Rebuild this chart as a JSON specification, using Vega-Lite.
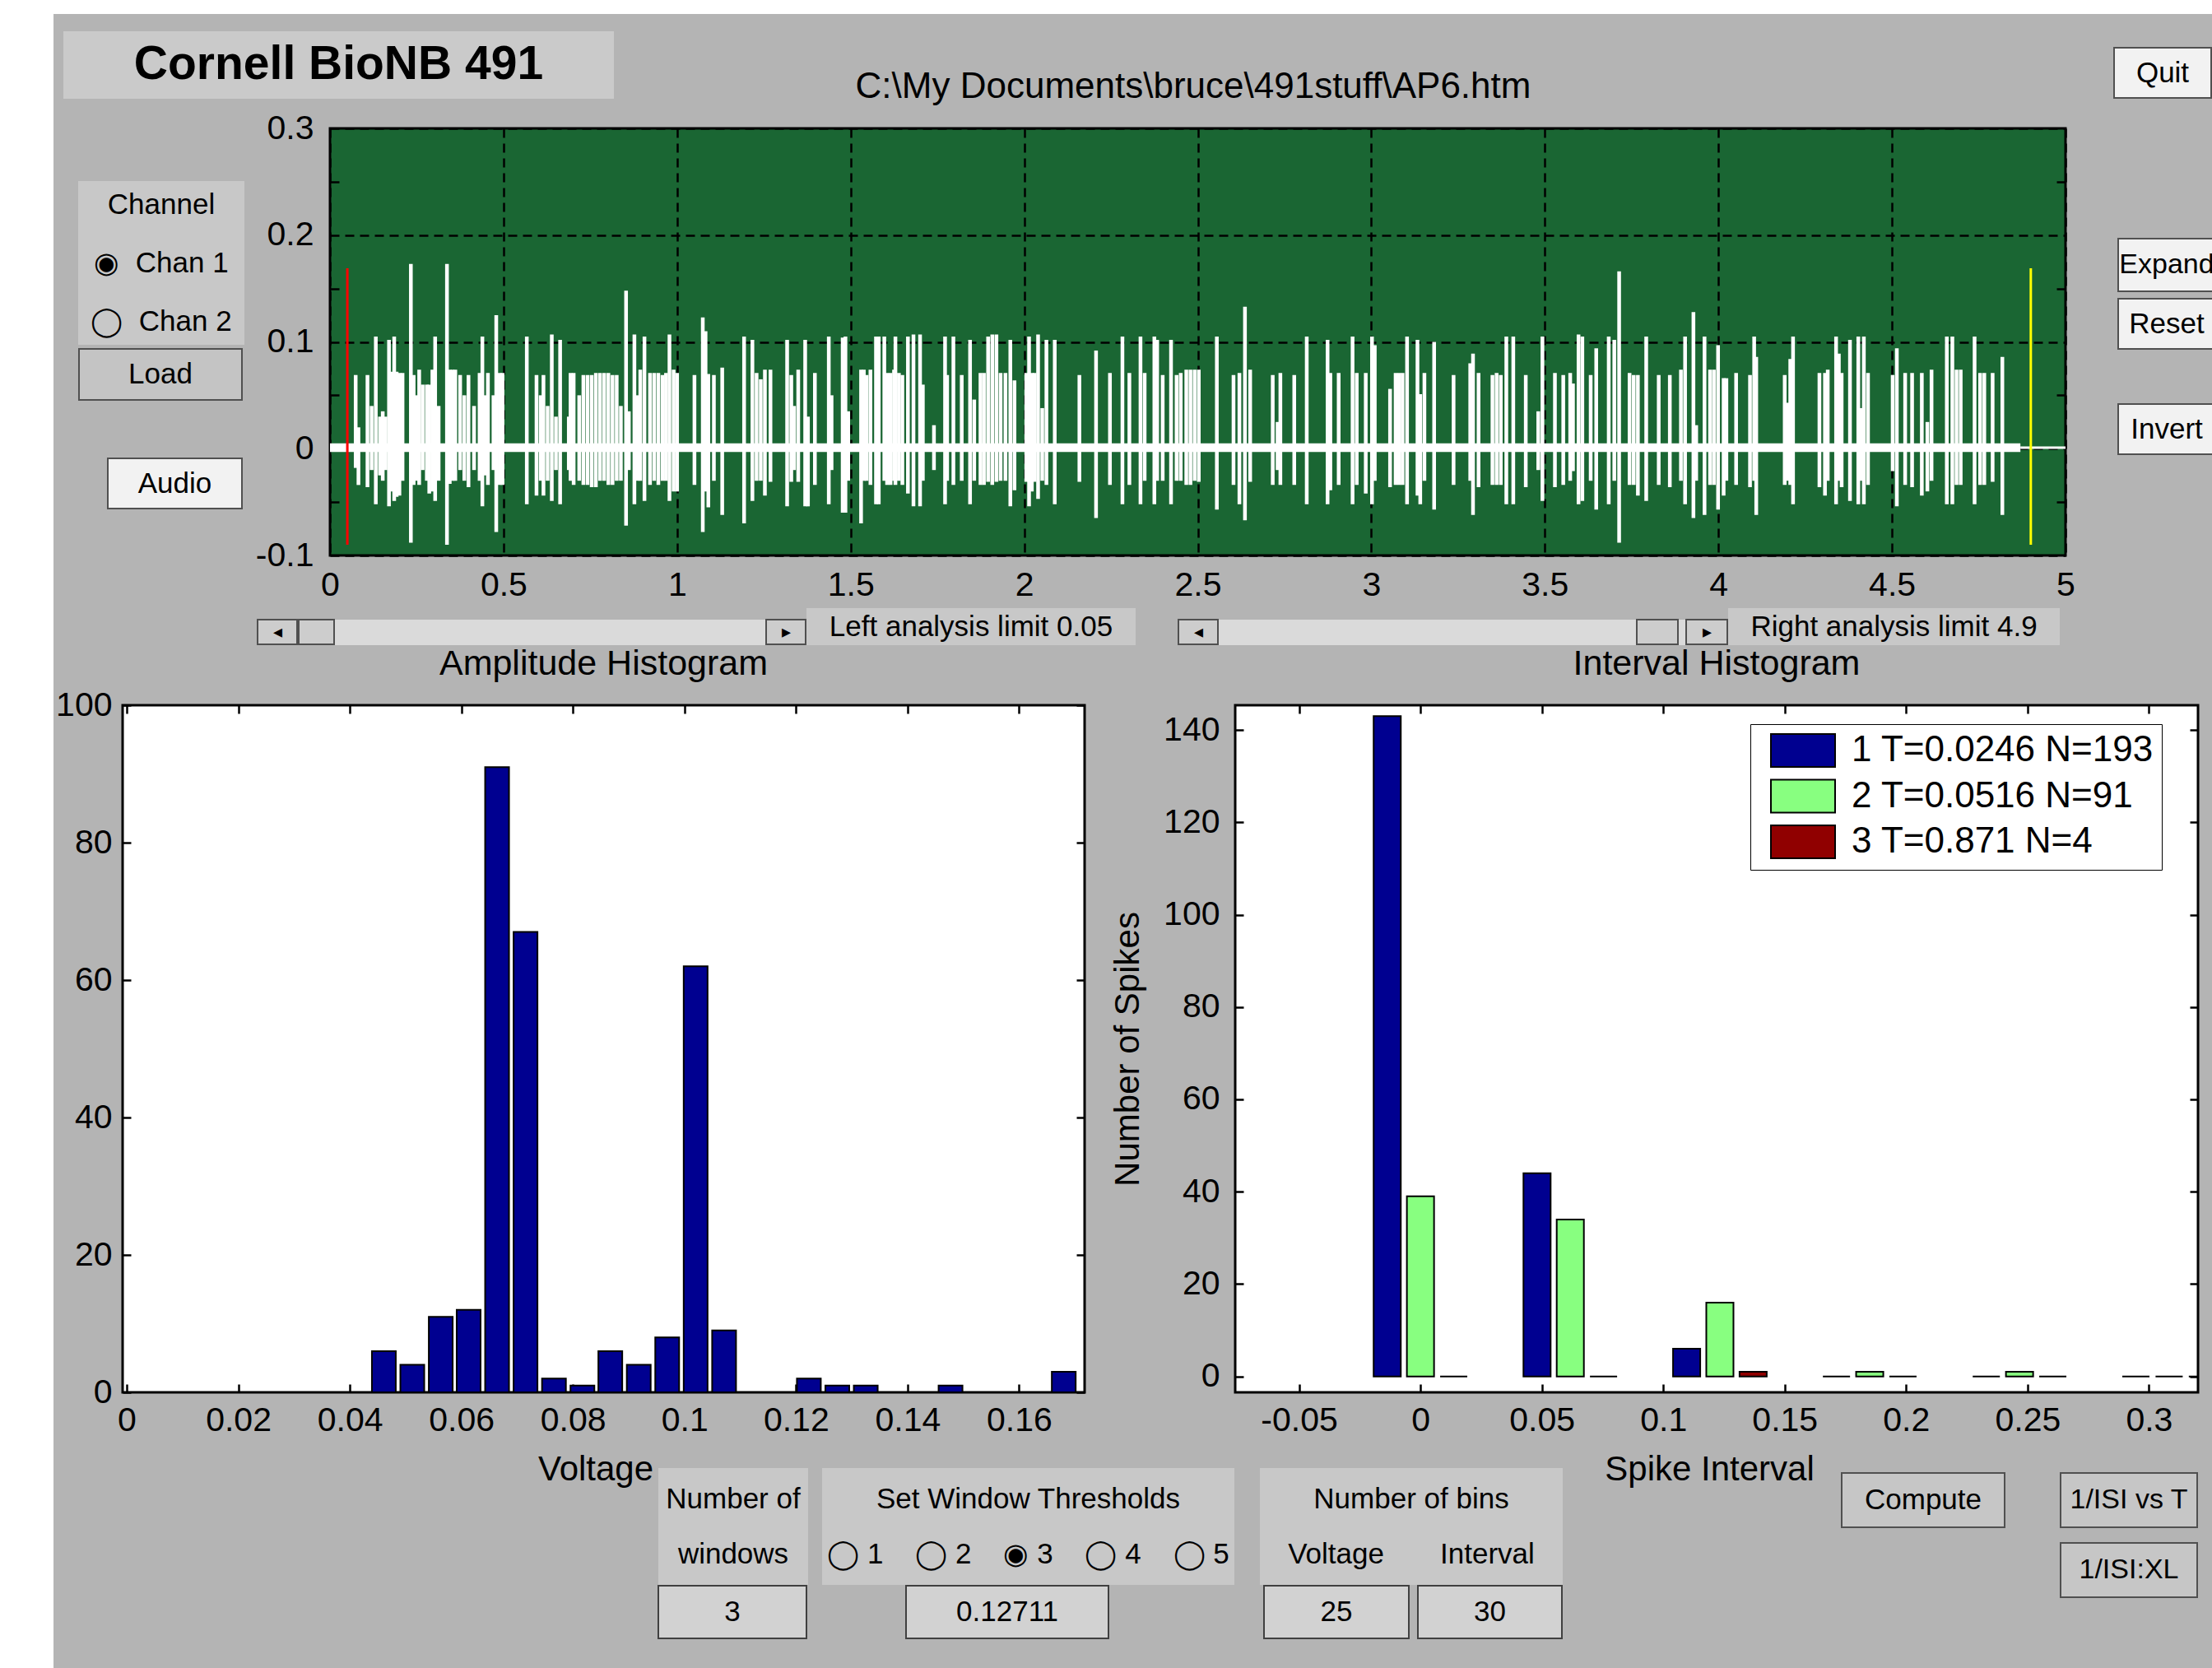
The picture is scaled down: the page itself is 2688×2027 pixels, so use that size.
{
  "$schema": "https://vega.github.io/schema/vega-lite/v6.json",
  "background": "#b4b4b4",
  "padding": 0,
  "config": {
    "font": "Liberation Sans",
    "view": {"stroke": null},
    "axis": {"labelColor": "black", "titleColor": "black", "titleFontWeight": "normal", "tickColor": "black", "gridColor": "black"},
    "title": {"color": "black", "fontWeight": "normal"},
    "legend": {"labelColor": "black"},
    "text": {"color": "black"}
  },
  "datasets": {
    "margin": [{"part": "margin"}],
    "base": [{"t0": 0, "t1": 4.87, "lo": -0.003, "hi": 0.005}],
    "tail": [{"t0": 4.87, "t1": 5, "v": 0.001}],
    "limits": [{"t": 0.05, "lo": -0.09, "hi": 0.169, "side": "left"}, {"t": 4.9, "lo": -0.09, "hi": 0.169, "side": "right"}],
    "spikes": [
      {"t":0.074,"hi":0.069,"lo":-0.018},{"t":0.082,"hi":0.02,"lo":-0.034},{"t":0.108,"hi":0.069,"lo":-0.036},{"t":0.12,"hi":0.04,"lo":-0.02},{"t":0.132,"hi":0.105,"lo":-0.052},{"t":0.144,"hi":0.03,"lo":-0.025},{"t":0.152,"hi":0.035,"lo":-0.03},{"t":0.16,"hi":0.03,"lo":-0.02},{"t":0.17,"hi":0.102,"lo":-0.054},{"t":0.177,"hi":0.072,"lo":-0.04},{"t":0.185,"hi":0.105,"lo":-0.049},{"t":0.192,"hi":0.072,"lo":-0.045},{"t":0.2,"hi":0.071,"lo":-0.044},{"t":0.209,"hi":0.071,"lo":-0.03},{"t":0.233,"hi":0.173,"lo":-0.088},{"t":0.241,"hi":0.069,"lo":-0.034},{"t":0.249,"hi":0.05,"lo":-0.03},{"t":0.257,"hi":0.074,"lo":-0.034},{"t":0.267,"hi":0.06,"lo":-0.02},{"t":0.279,"hi":0.06,"lo":-0.03},{"t":0.286,"hi":0.06,"lo":-0.042},{"t":0.295,"hi":0.074,"lo":-0.04},{"t":0.303,"hi":0.105,"lo":-0.049},{"t":0.313,"hi":0.04,"lo":-0.03},{"t":0.337,"hi":0.173,"lo":-0.09},{"t":0.345,"hi":0.074,"lo":-0.033},{"t":0.353,"hi":0.074,"lo":-0.03},{"t":0.361,"hi":0.074,"lo":-0.03},{"t":0.375,"hi":0.069,"lo":-0.02},{"t":0.387,"hi":0.05,"lo":-0.03},{"t":0.399,"hi":0.069,"lo":-0.036},{"t":0.415,"hi":0.04,"lo":-0.02},{"t":0.431,"hi":0.071,"lo":-0.03},{"t":0.439,"hi":0.105,"lo":-0.054},{"t":0.447,"hi":0.05,"lo":-0.025},{"t":0.455,"hi":0.071,"lo":-0.034},{"t":0.471,"hi":0.05,"lo":-0.02},{"t":0.479,"hi":0.125,"lo":-0.078},{"t":0.489,"hi":0.071,"lo":-0.034},{"t":0.497,"hi":0.071,"lo":-0.034},
      {"t":0.567,"hi":0.105,"lo":-0.052},{"t":0.595,"hi":0.069,"lo":-0.044},{"t":0.607,"hi":0.05,"lo":-0.03},{"t":0.615,"hi":0.069,"lo":-0.044},{"t":0.627,"hi":0.04,"lo":-0.03},{"t":0.639,"hi":0.107,"lo":-0.049},{"t":0.651,"hi":0.03,"lo":-0.02},{"t":0.663,"hi":0.102,"lo":-0.052},{"t":0.688,"hi":0.03,"lo":-0.02},{"t":0.693,"hi":0.071,"lo":-0.03},{"t":0.702,"hi":0.071,"lo":-0.034},{"t":0.718,"hi":0.05,"lo":-0.03},{"t":0.73,"hi":0.069,"lo":-0.034},{"t":0.742,"hi":0.069,"lo":-0.034},{"t":0.754,"hi":0.069,"lo":-0.036},{"t":0.766,"hi":0.071,"lo":-0.036},{"t":0.778,"hi":0.071,"lo":-0.03},{"t":0.79,"hi":0.071,"lo":-0.03},{"t":0.802,"hi":0.071,"lo":-0.034},{"t":0.814,"hi":0.069,"lo":-0.034},{"t":0.826,"hi":0.069,"lo":-0.03},{"t":0.838,"hi":0.04,"lo":-0.03},{"t":0.853,"hi":0.148,"lo":-0.072},{"t":0.861,"hi":0.035,"lo":-0.02},{"t":0.877,"hi":0.107,"lo":-0.052},{"t":0.886,"hi":0.05,"lo":-0.03},{"t":0.894,"hi":0.074,"lo":-0.03},{"t":0.906,"hi":0.105,"lo":-0.049},{"t":0.922,"hi":0.071,"lo":-0.034},{"t":0.934,"hi":0.071,"lo":-0.03},{"t":0.946,"hi":0.071,"lo":-0.034},{"t":0.958,"hi":0.069,"lo":-0.03},{"t":0.968,"hi":0.071,"lo":-0.03},{"t":0.978,"hi":0.107,"lo":-0.049},{"t":0.99,"hi":0.074,"lo":-0.04},{"t":1.0,"hi":0.071,"lo":-0.04},{"t":1.05,"hi":0.069,"lo":-0.034},{"t":1.074,"hi":0.123,"lo":-0.078},{"t":1.082,"hi":0.11,"lo":-0.04},{"t":1.09,"hi":0.07,"lo":-0.055},{"t":1.106,"hi":0.069,"lo":-0.03},{"t":1.13,"hi":0.076,"lo":-0.062},{"t":1.193,"hi":0.105,"lo":-0.07},{"t":1.217,"hi":0.102,"lo":-0.049},{"t":1.229,"hi":0.071,"lo":-0.03},{"t":1.241,"hi":0.065,"lo":-0.03},
      {"t":1.253,"hi":0.074,"lo":-0.044},{"t":1.269,"hi":0.074,"lo":-0.031},{"t":1.317,"hi":0.102,"lo":-0.054},{"t":1.329,"hi":0.069,"lo":-0.031},{"t":1.337,"hi":0.04,"lo":-0.02},{"t":1.349,"hi":0.074,"lo":-0.031},{"t":1.369,"hi":0.102,"lo":-0.054},{"t":1.377,"hi":0.03,"lo":-0.054},{"t":1.397,"hi":0.071,"lo":-0.034},{"t":1.437,"hi":0.105,"lo":-0.052},{"t":1.445,"hi":0.05,"lo":-0.02},{"t":1.477,"hi":0.104,"lo":-0.06},{"t":1.485,"hi":0.105,"lo":-0.06},{"t":1.493,"hi":0.035,"lo":-0.03},{"t":1.53,"hi":0.074,"lo":-0.07},{"t":1.538,"hi":0.074,"lo":-0.03},{"t":1.546,"hi":0.069,"lo":-0.03},{"t":1.557,"hi":0.074,"lo":-0.034},{"t":1.573,"hi":0.105,"lo":-0.052},{"t":1.581,"hi":0.105,"lo":-0.052},{"t":1.597,"hi":0.105,"lo":-0.03},{"t":1.605,"hi":0.071,"lo":-0.034},{"t":1.615,"hi":0.071,"lo":-0.034},{"t":1.625,"hi":0.074,"lo":-0.03},{"t":1.629,"hi":0.105,"lo":-0.034},{"t":1.639,"hi":0.071,"lo":-0.03},{"t":1.649,"hi":0.069,"lo":-0.034},{"t":1.665,"hi":0.105,"lo":-0.042},{"t":1.681,"hi":0.107,"lo":-0.054},{"t":1.7,"hi":0.107,"lo":-0.054},{"t":1.708,"hi":0.06,"lo":-0.03},{"t":1.74,"hi":0.022,"lo":-0.02},{"t":1.772,"hi":0.105,"lo":-0.052},{"t":1.778,"hi":0.069,"lo":-0.03},{"t":1.796,"hi":0.105,"lo":-0.034},{"t":1.82,"hi":0.069,"lo":-0.03},{"t":1.844,"hi":0.102,"lo":-0.052},{"t":1.856,"hi":0.046,"lo":-0.03},{"t":1.874,"hi":0.071,"lo":-0.034},{"t":1.884,"hi":0.071,"lo":-0.034},{"t":1.896,"hi":0.105,"lo":-0.031},{"t":1.908,"hi":0.107,"lo":-0.034},{"t":1.92,"hi":0.107,"lo":-0.031},{"t":1.932,"hi":0.071,"lo":-0.03},{"t":1.946,"hi":0.071,"lo":-0.03},{"t":1.96,"hi":0.102,"lo":-0.054},{"t":1.972,"hi":0.064,"lo":-0.039},{"t":2.006,"hi":0.071,"lo":-0.031},{"t":2.014,"hi":0.105,"lo":-0.054},{"t":2.022,"hi":0.071,"lo":-0.04},{"t":2.03,"hi":0.071,"lo":-0.031},{"t":2.04,"hi":0.107,"lo":-0.047},{"t":2.052,"hi":0.038,"lo":-0.03},{"t":2.064,"hi":0.102,"lo":-0.034},{"t":2.088,"hi":0.102,"lo":-0.052},{"t":2.159,"hi":0.069,"lo":-0.031},{"t":2.207,"hi":0.092,"lo":-0.065},{"t":2.247,"hi":0.071,"lo":-0.034},{"t":2.283,"hi":0.105,"lo":-0.052},{"t":2.303,"hi":0.071,"lo":-0.034},{"t":2.335,"hi":0.105,"lo":-0.052},{"t":2.347,"hi":0.071,"lo":-0.03},{"t":2.375,"hi":0.105,"lo":-0.052},{"t":2.383,"hi":0.102,"lo":-0.03},{"t":2.399,"hi":0.069,"lo":-0.03},{"t":2.423,"hi":0.102,"lo":-0.052},{"t":2.439,"hi":0.069,"lo":-0.03},{"t":2.451,"hi":0.071,"lo":-0.03},{"t":2.467,"hi":0.074,"lo":-0.034},{"t":2.479,"hi":0.074,"lo":-0.034},{"t":2.491,"hi":0.074,"lo":-0.03},
      {"t":2.503,"hi":0.074,"lo":-0.031},{"t":2.555,"hi":0.105,"lo":-0.057},{"t":2.603,"hi":0.069,"lo":-0.034},{"t":2.62,"hi":0.071,"lo":-0.052},{"t":2.636,"hi":0.133,"lo":-0.067},{"t":2.651,"hi":0.074,"lo":-0.031},{"t":2.716,"hi":0.069,"lo":-0.034},{"t":2.73,"hi":0.025,"lo":-0.02},{"t":2.738,"hi":0.071,"lo":-0.034},{"t":2.778,"hi":0.069,"lo":-0.034},{"t":2.814,"hi":0.105,"lo":-0.052},{"t":2.874,"hi":0.102,"lo":-0.052},{"t":2.882,"hi":0.071,"lo":-0.039},{"t":2.906,"hi":0.071,"lo":-0.034},{"t":2.946,"hi":0.105,"lo":-0.052},{"t":2.958,"hi":0.071,"lo":-0.034},{"t":2.984,"hi":0.071,"lo":-0.042},{"t":3.002,"hi":0.105,"lo":-0.052},{"t":3.01,"hi":0.097,"lo":-0.03},{"t":3.054,"hi":0.056,"lo":-0.036},{"t":3.07,"hi":0.071,"lo":-0.034},{"t":3.08,"hi":0.071,"lo":-0.034},{"t":3.09,"hi":0.071,"lo":-0.034},{"t":3.103,"hi":0.105,"lo":-0.052},{"t":3.133,"hi":0.102,"lo":-0.044},{"t":3.141,"hi":0.051,"lo":-0.052},{"t":3.153,"hi":0.071,"lo":-0.03},{"t":3.181,"hi":0.1,"lo":-0.057},{"t":3.237,"hi":0.069,"lo":-0.034},{"t":3.285,"hi":0.08,"lo":-0.03},{"t":3.293,"hi":0.089,"lo":-0.062},{"t":3.309,"hi":0.071,"lo":-0.036},{"t":3.349,"hi":0.069,"lo":-0.034},{"t":3.361,"hi":0.071,"lo":-0.034},{"t":3.373,"hi":0.069,"lo":-0.034},{"t":3.389,"hi":0.105,"lo":-0.052},{"t":3.409,"hi":0.105,"lo":-0.052},{"t":3.445,"hi":0.069,"lo":-0.036},{"t":3.481,"hi":0.035,"lo":-0.02},{"t":3.493,"hi":0.105,"lo":-0.049},{"t":3.529,"hi":0.071,"lo":-0.036},{"t":3.553,"hi":0.069,"lo":-0.034},{"t":3.573,"hi":0.071,"lo":-0.03},{"t":3.581,"hi":0.061,"lo":-0.021},{"t":3.597,"hi":0.107,"lo":-0.052},{"t":3.608,"hi":0.105,"lo":-0.049},{"t":3.632,"hi":0.069,"lo":-0.03},{"t":3.648,"hi":0.094,"lo":-0.057},{"t":3.684,"hi":0.105,"lo":-0.052},{"t":3.7,"hi":0.102,"lo":-0.03},{"t":3.714,"hi":0.166,"lo":-0.088},{"t":3.744,"hi":0.071,"lo":-0.034},
      {"t":3.756,"hi":0.069,"lo":-0.034},{"t":3.768,"hi":0.069,"lo":-0.044},{"t":3.792,"hi":0.105,"lo":-0.049},{"t":3.828,"hi":0.069,"lo":-0.034},{"t":3.86,"hi":0.069,"lo":-0.036},{"t":3.892,"hi":0.074,"lo":-0.03},{"t":3.904,"hi":0.105,"lo":-0.052},{"t":3.928,"hi":0.128,"lo":-0.065},{"t":3.936,"hi":0.022,"lo":-0.03},{"t":3.96,"hi":0.105,"lo":-0.062},{"t":3.976,"hi":0.074,"lo":-0.034},{"t":3.987,"hi":0.074,"lo":-0.034},{"t":3.999,"hi":0.097,"lo":-0.057},{"t":4.015,"hi":0.066,"lo":-0.044},{"t":4.023,"hi":0.066,"lo":-0.03},{"t":4.051,"hi":0.071,"lo":-0.034},{"t":4.091,"hi":0.069,"lo":-0.036},{"t":4.103,"hi":0.105,"lo":-0.03},{"t":4.109,"hi":0.086,"lo":-0.062},{"t":4.191,"hi":0.069,"lo":-0.034},{"t":4.199,"hi":0.043,"lo":-0.03},{"t":4.207,"hi":0.084,"lo":-0.034},{"t":4.215,"hi":0.105,"lo":-0.052},{"t":4.291,"hi":0.071,"lo":-0.036},{"t":4.307,"hi":0.071,"lo":-0.044},{"t":4.315,"hi":0.074,"lo":-0.03},{"t":4.339,"hi":0.105,"lo":-0.052},{"t":4.347,"hi":0.089,"lo":-0.03},{"t":4.355,"hi":0.071,"lo":-0.036},{"t":4.379,"hi":0.102,"lo":-0.049},{"t":4.403,"hi":0.105,"lo":-0.052},{"t":4.411,"hi":0.038,"lo":-0.03},{"t":4.419,"hi":0.105,"lo":-0.052},{"t":4.431,"hi":0.071,"lo":-0.034},{"t":4.502,"hi":0.069,"lo":-0.021},{"t":4.514,"hi":0.094,"lo":-0.054},{"t":4.538,"hi":0.071,"lo":-0.034},{"t":4.558,"hi":0.071,"lo":-0.036},{"t":4.586,"hi":0.071,"lo":-0.044},{"t":4.602,"hi":0.025,"lo":-0.04},{"t":4.614,"hi":0.074,"lo":-0.03},{"t":4.658,"hi":0.105,"lo":-0.052},{"t":4.674,"hi":0.105,"lo":-0.052},{"t":4.686,"hi":0.074,"lo":-0.034},{"t":4.698,"hi":0.074,"lo":-0.034},{"t":4.738,"hi":0.105,"lo":-0.052},{"t":4.754,"hi":0.071,"lo":-0.034},{"t":4.766,"hi":0.071,"lo":-0.034},{"t":4.79,"hi":0.071,"lo":-0.031},{"t":4.818,"hi":0.086,"lo":-0.062}
    ],
    "amp": [
      {"v":0.0461,"n":6},{"v":0.0512,"n":4},{"v":0.0563,"n":11},{"v":0.0613,"n":12},{"v":0.0664,"n":91},{"v":0.0715,"n":67},{"v":0.0766,"n":2},{"v":0.0817,"n":1},{"v":0.0867,"n":6},{"v":0.0918,"n":4},{"v":0.0969,"n":8},{"v":0.102,"n":62},{"v":0.1071,"n":9},{"v":0.1121,"n":0},{"v":0.1172,"n":0},{"v":0.1223,"n":2},{"v":0.1274,"n":1},{"v":0.1325,"n":1},{"v":0.1375,"n":0},{"v":0.1426,"n":0},{"v":0.1477,"n":1},{"v":0.1528,"n":0},{"v":0.1579,"n":0},{"v":0.1629,"n":0},{"v":0.168,"n":3}
    ],
    "isi": [
      {"bin":0,"w":1,"win":"1 T=0.0246 N=193","n":143},{"bin":0.0617,"w":1,"win":"1 T=0.0246 N=193","n":44},{"bin":0.1233,"w":1,"win":"1 T=0.0246 N=193","n":6},{"bin":0.185,"w":1,"win":"1 T=0.0246 N=193","n":0},{"bin":0.2467,"w":1,"win":"1 T=0.0246 N=193","n":0},{"bin":0.3083,"w":1,"win":"1 T=0.0246 N=193","n":0},
      {"bin":0,"w":2,"win":"2 T=0.0516 N=91","n":39},{"bin":0.0617,"w":2,"win":"2 T=0.0516 N=91","n":34},{"bin":0.1233,"w":2,"win":"2 T=0.0516 N=91","n":16},{"bin":0.185,"w":2,"win":"2 T=0.0516 N=91","n":1},{"bin":0.2467,"w":2,"win":"2 T=0.0516 N=91","n":1},{"bin":0.3083,"w":2,"win":"2 T=0.0516 N=91","n":0},
      {"bin":0,"w":3,"win":"3 T=0.871 N=4","n":0},{"bin":0.0617,"w":3,"win":"3 T=0.871 N=4","n":0},{"bin":0.1233,"w":3,"win":"3 T=0.871 N=4","n":1},{"bin":0.185,"w":3,"win":"3 T=0.871 N=4","n":0},{"bin":0.2467,"w":3,"win":"3 T=0.871 N=4","n":0},{"bin":0.3083,"w":3,"win":"3 T=0.871 N=4","n":0}
    ]
  },
  "spacing": 0,
  "resolve": {"scale": {"color": "independent"}, "legend": {"color": "independent"}},
  "hconcat": [
    {"width": 65, "height": 2027, "view": {"fill": "white"}, "data": {"name": "margin"}, "mark": {"type": "rect", "color": "white"}},
    {
      "spacing": 0,
      "resolve": {"scale": {"color": "independent"}, "legend": {"color": "independent"}},
      "vconcat": [
        {"width": 2623, "height": 17, "view": {"fill": "white"}, "data": {"name": "margin"}, "mark": {"type": "rect", "color": "white"}},
        {
          "spacing": 0,
          "hconcat": [
            {"width": 12, "height": 103, "data": {"values": []}, "mark": "point"},
            {"spacing": 0, "vconcat": [
              {"width": 1, "height": 21, "data": {"values": []}, "mark": "point"},
              {"width": 669, "height": 82, "view": {"fill": "#cacaca"}, "data": {"values": [{"label": "Cornell BioNB 491"}]}, "mark": {"type": "text", "fontSize": 57, "fontWeight": "bold"}, "encoding": {"text": {"field": "label", "type": "nominal"}}}
            ]},
            {"width": 254, "height": 1, "data": {"values": []}, "mark": "point"},
            {"spacing": 0, "vconcat": [
              {"width": 1, "height": 45, "data": {"values": []}, "mark": "point"},
              {"width": 900, "height": 58, "data": {"values": [{"label": "C:\\My Documents\\bruce\\491stuff\\AP6.htm"}]}, "mark": {"type": "text", "fontSize": 44, "dy": 15}, "encoding": {"text": {"field": "label", "type": "nominal"}}}
            ]},
            {"width": 668, "height": 1, "data": {"values": []}, "mark": "point"},
            {"spacing": 0, "vconcat": [
              {"width": 1, "height": 40, "data": {"values": []}, "mark": "point"},
              {"width": 118, "height": 61, "view": {"fill": "#f2f2f2", "stroke": "#505050", "strokeWidth": 2}, "data": {"values": [{"label": "Quit"}]}, "mark": {"type": "text", "fontSize": 35}, "encoding": {"text": {"field": "label", "type": "nominal"}}}
            ]}
          ]
        },
        {
          "spacing": 0,
          "hconcat": [
            {"spacing": 0, "vconcat": [
              {"width": 1, "height": 92, "data": {"values": []}, "mark": "point"},
              {"spacing": 0, "hconcat": [
                {"width": 30, "height": 1, "data": {"values": []}, "mark": "point"},
                {"width": 202, "height": 199, "view": {"fill": "#c8c8c8"}, "data": {"values": [{"label": ["Channel", "◉\u00a0\u00a0Chan 1", "◯\u00a0\u00a0Chan 2"]}]}, "mark": {"type": "text", "fontSize": 35, "lineHeight": 71, "dy": -71}, "encoding": {"text": {"field": "label", "type": "nominal"}}}
              ]},
              {"width": 1, "height": 4, "data": {"values": []}, "mark": "point"},
              {"spacing": 0, "hconcat": [
                {"width": 30, "height": 1, "data": {"values": []}, "mark": "point"},
                {"width": 198, "height": 62, "view": {"fill": "#c4c4c4", "stroke": "#505050", "strokeWidth": 2}, "data": {"values": [{"label": "Load"}]}, "mark": {"type": "text", "fontSize": 35}, "encoding": {"text": {"field": "label", "type": "nominal"}}}
              ]},
              {"width": 1, "height": 69, "data": {"values": []}, "mark": "point"},
              {"spacing": 0, "hconcat": [
                {"width": 65, "height": 1, "data": {"values": []}, "mark": "point"},
                {"width": 163, "height": 61, "view": {"fill": "#f2f2f2", "stroke": "#505050", "strokeWidth": 2}, "data": {"values": [{"label": "Audio"}]}, "mark": {"type": "text", "fontSize": 35}, "encoding": {"text": {"field": "label", "type": "nominal"}}}
              ]}
            ]},
            {"width": 10.4, "height": 1, "data": {"values": []}, "mark": "point"},
            {"spacing": 0, "vconcat": [
              {"width": 1, "height": 5, "data": {"values": []}, "mark": "point"},
              {
                "width": 2109, "height": 519,
                "view": {"fill": "#1a6633", "stroke": "black", "strokeWidth": 3},
                "layer": [
                  {"data": {"name": "base"}, "mark": {"type": "rect", "color": "white", "clip": true},
                   "encoding": {
                     "x": {"field": "t0", "type": "quantitative", "scale": {"domain": [0, 5], "nice": false, "zero": false},
                           "axis": {"orient": "bottom", "values": [0, 0.5, 1, 1.5, 2, 2.5, 3, 3.5, 4, 4.5, 5], "labelExpr": "''+datum.value", "labelFontSize": 41, "labelPadding": 16, "ticks": false, "domain": false, "grid": true, "gridDash": [11, 7], "gridWidth": 2.5, "gridColor": "black", "labelFlush": false, "labelOverlap": false, "title": null}},
                     "x2": {"field": "t1"},
                     "y": {"field": "lo", "type": "quantitative", "scale": {"domain": [-0.1, 0.3], "nice": false, "zero": false},
                           "axis": {"orient": "left", "values": [-0.1, 0, 0.1, 0.2, 0.3], "labelExpr": "''+datum.value", "labelFontSize": 41, "labelPadding": 20, "ticks": false, "domain": false, "grid": true, "gridDash": [11, 7], "gridWidth": 2.5, "gridColor": "black", "labelOverlap": false, "title": null}},
                     "y2": {"field": "hi"}
                   }},
                  {"data": {"name": "tail"}, "mark": {"type": "rule", "color": "white", "strokeWidth": 3},
                   "encoding": {"x": {"field": "t0", "type": "quantitative", "axis": null}, "x2": {"field": "t1"}, "y": {"field": "v", "type": "quantitative", "axis": null}}},
                  {"data": {"name": "spikes"}, "mark": {"type": "rule", "color": "white", "strokeWidth": 4.5, "clip": true},
                   "encoding": {"x": {"field": "t", "type": "quantitative", "axis": null}, "y": {"field": "lo", "type": "quantitative", "axis": null}, "y2": {"field": "hi"}}},
                  {"data": {"name": "limits"}, "transform": [{"filter": "datum.side == 'left'"}], "mark": {"type": "rule", "strokeWidth": 3, "color": "#ff0000"},
                   "encoding": {"x": {"field": "t", "type": "quantitative", "axis": null}, "y": {"field": "lo", "type": "quantitative", "axis": null}, "y2": {"field": "hi"}}},
                  {"data": {"name": "limits"}, "transform": [{"filter": "datum.side == 'right'"}], "mark": {"type": "rule", "strokeWidth": 3, "color": "#ffff00"},
                   "encoding": {"x": {"field": "t", "type": "quantitative", "axis": null}, "y": {"field": "lo", "type": "quantitative", "axis": null}, "y2": {"field": "hi"}}},
                  {"data": {"name": "limits"}, "mark": {"type": "point", "opacity": 0},
                   "encoding": {"x": {"field": "t", "type": "quantitative", "axis": null},
                                "y": {"field": "lo", "type": "quantitative", "axis": {"orient": "right", "values": [-0.05, 0.05, 0.15, 0.25], "labels": false, "ticks": true, "tickSize": -11, "tickWidth": 2.5, "tickColor": "black", "domain": false, "grid": false, "title": null}}}},
                  {"data": {"name": "limits"}, "mark": {"type": "point", "opacity": 0},
                   "encoding": {"x": {"field": "t", "type": "quantitative", "axis": null},
                                "y": {"field": "lo", "type": "quantitative", "axis": {"orient": "left", "values": [-0.05, 0.05, 0.15, 0.25], "labels": false, "ticks": true, "tickSize": -11, "tickWidth": 2.5, "tickColor": "black", "domain": false, "grid": false, "title": null}}}}
                ],
                "resolve": {"axis": {"x": "independent", "y": "independent"}}
              }
            ]},
            {"width": 49.6, "height": 1, "data": {"values": []}, "mark": "point"},
            {"spacing": 0, "vconcat": [
              {"width": 1, "height": 161, "data": {"values": []}, "mark": "point"},
              {"width": 118, "height": 64, "view": {"fill": "#f2f2f2", "stroke": "#505050", "strokeWidth": 2}, "data": {"values": [{"label": "Expand"}]}, "mark": {"type": "text", "fontSize": 34}, "encoding": {"text": {"field": "label", "type": "nominal"}}},
              {"width": 1, "height": 7, "data": {"values": []}, "mark": "point"},
              {"width": 118, "height": 61, "view": {"fill": "#f2f2f2", "stroke": "#505050", "strokeWidth": 2}, "data": {"values": [{"label": "Reset"}]}, "mark": {"type": "text", "fontSize": 35}, "encoding": {"text": {"field": "label", "type": "nominal"}}},
              {"width": 1, "height": 65, "data": {"values": []}, "mark": "point"},
              {"width": 118, "height": 61, "view": {"fill": "#f2f2f2", "stroke": "#505050", "strokeWidth": 2}, "data": {"values": [{"label": "Invert"}]}, "mark": {"type": "text", "fontSize": 35}, "encoding": {"text": {"field": "label", "type": "nominal"}}}
            ]}
          ]
        },
        {
          "spacing": 0,
          "hconcat": [
            {"width": 247, "height": 1, "data": {"values": []}, "mark": "point"},
            {"spacing": 0, "vconcat": [
              {"width": 1, "height": 19, "data": {"values": []}, "mark": "point"},
              {"spacing": 0, "hconcat": [
                {"width": 48, "height": 30, "view": {"fill": "#cdcdcd", "stroke": "#505050", "strokeWidth": 2}, "data": {"values": [{"label": "◂"}]}, "mark": {"type": "text", "fontSize": 22}, "encoding": {"text": {"field": "label", "type": "nominal"}}},
                {"width": 43, "height": 30, "view": {"fill": "#cdcdcd", "stroke": "#505050", "strokeWidth": 2}, "data": {"values": []}, "mark": "point"},
                {"width": 523, "height": 31, "view": {"fill": "#dadada"}, "data": {"values": []}, "mark": "point"},
                {"width": 48, "height": 30, "view": {"fill": "#cdcdcd", "stroke": "#505050", "strokeWidth": 2}, "data": {"values": [{"label": "▸"}]}, "mark": {"type": "text", "fontSize": 22}, "encoding": {"text": {"field": "label", "type": "nominal"}}}
              ]}
            ]},
            {"spacing": 0, "vconcat": [
              {"width": 1, "height": 6, "data": {"values": []}, "mark": "point"},
              {"width": 400, "height": 45, "view": {"fill": "#c8c8c8"}, "data": {"values": [{"label": "Left analysis limit 0.05"}]}, "mark": {"type": "text", "fontSize": 35}, "encoding": {"text": {"field": "label", "type": "nominal"}}}
            ]},
            {"width": 51, "height": 1, "data": {"values": []}, "mark": "point"},
            {"spacing": 0, "vconcat": [
              {"width": 1, "height": 19, "data": {"values": []}, "mark": "point"},
              {"spacing": 0, "hconcat": [
                {"width": 48, "height": 30, "view": {"fill": "#cdcdcd", "stroke": "#505050", "strokeWidth": 2}, "data": {"values": [{"label": "◂"}]}, "mark": {"type": "text", "fontSize": 22}, "encoding": {"text": {"field": "label", "type": "nominal"}}},
                {"width": 507, "height": 31, "view": {"fill": "#dadada"}, "data": {"values": []}, "mark": "point"},
                {"width": 50, "height": 30, "view": {"fill": "#cdcdcd", "stroke": "#505050", "strokeWidth": 2}, "data": {"values": []}, "mark": "point"},
                {"width": 8, "height": 31, "view": {"fill": "#dadada"}, "data": {"values": []}, "mark": "point"},
                {"width": 50, "height": 30, "view": {"fill": "#cdcdcd", "stroke": "#505050", "strokeWidth": 2}, "data": {"values": [{"label": "▸"}]}, "mark": {"type": "text", "fontSize": 22}, "encoding": {"text": {"field": "label", "type": "nominal"}}}
              ]}
            ]},
            {"spacing": 0, "vconcat": [
              {"width": 1, "height": 6, "data": {"values": []}, "mark": "point"},
              {"width": 403, "height": 45, "view": {"fill": "#c8c8c8"}, "data": {"values": [{"label": "Right analysis limit 4.9"}]}, "mark": {"type": "text", "fontSize": 35}, "encoding": {"text": {"field": "label", "type": "nominal"}}}
            ]}
          ]
        },
        {
          "spacing": 0,
          "resolve": {"scale": {"color": "independent"}, "legend": {"color": "independent"}},
          "hconcat": [
            {"width": 1, "height": 1, "data": {"values": []}, "mark": "point"},
            {
              "width": 1169, "height": 835,
              "view": {"fill": "white", "stroke": "black", "strokeWidth": 3},
              "title": {"text": "Amplitude Histogram", "fontSize": 43, "fontWeight": "normal", "offset": -26.5, "baseline": "alphabetic", "anchor": "middle", "color": "black"},
              "data": {"name": "amp"},
              "layer": [
                {"mark": {"type": "bar", "size": 29, "fill": "#000090", "stroke": "black", "strokeWidth": 2},
                 "encoding": {
                   "x": {"field": "v", "type": "quantitative", "scale": {"domain": [0, 0.171], "nice": false, "zero": false},
                         "axis": {"orient": "bottom", "values": [0, 0.02, 0.04, 0.06, 0.08, 0.1, 0.12, 0.14, 0.16], "labelExpr": "''+datum.value", "labelFontSize": 41, "labelPadding": 24, "tickSize": -10, "tickWidth": 2.5, "tickColor": "black", "domain": false, "grid": false, "labelFlush": false, "labelOverlap": false, "title": null}},
                   "y": {"field": "n", "type": "quantitative", "scale": {"domain": [0, 100], "nice": false, "zero": false},
                         "axis": {"orient": "left", "values": [0, 20, 40, 60, 80, 100], "labelExpr": "''+datum.value", "labelFontSize": 41, "labelPadding": 23, "tickSize": -10, "tickWidth": 2.5, "tickColor": "black", "domain": false, "grid": false, "labelOverlap": false, "title": null}},
                   "y2": {"datum": 0}
                 }},
                {"mark": {"type": "point", "opacity": 0},
                 "encoding": {
                   "x": {"field": "v", "type": "quantitative", "axis": {"orient": "top", "values": [0, 0.02, 0.04, 0.06, 0.08, 0.1, 0.12, 0.14, 0.16], "labels": false, "tickSize": -10, "tickWidth": 2.5, "tickColor": "black", "domain": false, "grid": false, "title": null}},
                   "y": {"field": "n", "type": "quantitative", "axis": {"orient": "right", "values": [0, 20, 40, 60, 80, 100], "labels": false, "tickSize": -10, "tickWidth": 2.5, "tickColor": "black", "domain": false, "grid": false, "title": null}}
                 }}
              ],
              "resolve": {"axis": {"x": "independent", "y": "independent"}}
            },
            {"width": 27, "height": 1, "data": {"values": []}, "mark": "point"},
            {
              "width": 1170, "height": 835,
              "view": {"fill": "white", "stroke": "black", "strokeWidth": 3},
              "title": {"text": "Interval Histogram", "fontSize": 43, "fontWeight": "normal", "offset": -7, "baseline": "alphabetic", "anchor": "middle", "color": "black"},
              "data": {"name": "isi"},
              "layer": [
                {"transform": [{"filter": "datum.w == 1"}],
                 "mark": {"type": "bar", "size": 33, "stroke": "black", "strokeWidth": 2, "xOffset": -40.4, "clip": true},
                 "encoding": {
                   "x": {"field": "bin", "type": "quantitative", "scale": {"domain": [-0.0746, 0.3185], "nice": false, "zero": false},
                         "axis": {"orient": "bottom", "values": [-0.05, 0, 0.05, 0.1, 0.15, 0.2, 0.25, 0.3], "labelExpr": "''+datum.value", "labelFontSize": 41, "labelPadding": 24, "tickSize": -10, "tickWidth": 2.5, "tickColor": "black", "domain": false, "grid": false, "labelFlush": false, "labelOverlap": false, "title": null}},
                   "y": {"field": "n", "type": "quantitative", "scale": {"domain": [-3.44, 145.35], "nice": false, "zero": false},
                         "axis": {"orient": "left", "values": [0, 20, 40, 60, 80, 100, 120, 140], "labelExpr": "''+datum.value", "labelFontSize": 41, "labelPadding": 29, "tickSize": -10, "tickWidth": 2.5, "tickColor": "black", "domain": false, "grid": false, "labelOverlap": false, "title": "Number of Spikes", "titleFontSize": 42, "titlePadding": 20.6, "titleFontWeight": "normal"}},
                   "y2": {"datum": 0},
                   "color": {"field": "win", "type": "nominal",
                             "scale": {"domain": ["1 T=0.0246 N=193", "2 T=0.0516 N=91", "3 T=0.871 N=4"], "range": ["#000090", "#88ff80", "#900000"]},
                             "legend": {"orient": "none", "legendX": 626, "legendY": 23, "title": null, "symbolType": "M-1.95,-1H1.95V1H-1.95Z", "symbolSize": 1600, "symbolStrokeColor": "black", "symbolStrokeWidth": 2, "symbolOpacity": 1, "labelFontSize": 44, "labelOffset": 37, "symbolOffset": 32, "padding": 10, "rowPadding": 7.5, "fillColor": "white", "strokeColor": "black", "labelLimit": 1000, "labelColor": "black"}}
                 }},
                {"transform": [{"filter": "datum.w == 2"}],
                 "mark": {"type": "bar", "size": 33, "stroke": "black", "strokeWidth": 2, "xOffset": 0, "clip": true},
                 "encoding": {
                   "x": {"field": "bin", "type": "quantitative", "axis": null},
                   "y": {"field": "n", "type": "quantitative", "axis": null},
                   "y2": {"datum": 0},
                   "color": {"field": "win", "type": "nominal"}
                 }},
                {"transform": [{"filter": "datum.w == 3"}],
                 "mark": {"type": "bar", "size": 33, "stroke": "black", "strokeWidth": 2, "xOffset": 40.4, "clip": true},
                 "encoding": {
                   "x": {"field": "bin", "type": "quantitative", "axis": null},
                   "y": {"field": "n", "type": "quantitative", "axis": null},
                   "y2": {"datum": 0},
                   "color": {"field": "win", "type": "nominal"}
                 }},
                {"mark": {"type": "point", "opacity": 0},
                 "encoding": {
                   "x": {"field": "bin", "type": "quantitative", "axis": {"orient": "top", "values": [-0.05, 0, 0.05, 0.1, 0.15, 0.2, 0.25, 0.3], "labels": false, "tickSize": -10, "tickWidth": 2.5, "tickColor": "black", "domain": false, "grid": false, "title": null}},
                   "y": {"field": "n", "type": "quantitative", "axis": {"orient": "right", "values": [0, 20, 40, 60, 80, 100, 120, 140], "labels": false, "tickSize": -10, "tickWidth": 2.5, "tickColor": "black", "domain": false, "grid": false, "title": null}}
                 }}
              ],
              "resolve": {"axis": {"x": "independent", "y": "independent"}}
            }
          ]
        },
        {
          "spacing": 0,
          "hconcat": [
            {"width": 586, "height": 1, "data": {"values": []}, "mark": "point"},
            {"spacing": 0, "vconcat": [
              {"width": 1, "height": 13, "data": {"values": []}, "mark": "point"},
              {"width": 146, "height": 50, "data": {"values": [{"label": "Voltage"}]}, "mark": {"type": "text", "fontSize": 42}, "encoding": {"text": {"field": "label", "type": "nominal"}}}
            ]},
            {"width": 2, "height": 1, "data": {"values": []}, "mark": "point"},
            {"spacing": 0, "vconcat": [
              {"width": 1, "height": 36, "data": {"values": []}, "mark": "point"},
              {"width": 182, "height": 142, "view": {"fill": "#c8c8c8"}, "data": {"values": [{"label": ["Number of", "windows"]}]}, "mark": {"type": "text", "fontSize": 35, "lineHeight": 67, "dy": -33.5}, "encoding": {"text": {"field": "label", "type": "nominal"}}},
              {"width": 180, "height": 64, "view": {"fill": "#d2d2d2", "stroke": "#404040", "strokeWidth": 2}, "data": {"values": [{"label": "3"}]}, "mark": {"type": "text", "fontSize": 35}, "encoding": {"text": {"field": "label", "type": "nominal"}}}
            ]},
            {"width": 17, "height": 1, "data": {"values": []}, "mark": "point"},
            {"spacing": 0, "vconcat": [
              {"width": 1, "height": 36, "data": {"values": []}, "mark": "point"},
              {"width": 501, "height": 142, "view": {"fill": "#c8c8c8"}, "data": {"values": [{"label": ["Set Window Thresholds", "◯\u00a01\u00a0\u00a0\u00a0\u00a0◯\u00a02\u00a0\u00a0\u00a0\u00a0◉\u00a03\u00a0\u00a0\u00a0\u00a0◯\u00a04\u00a0\u00a0\u00a0\u00a0◯\u00a05"]}]}, "mark": {"type": "text", "fontSize": 35, "lineHeight": 67, "dy": -33.5}, "encoding": {"text": {"field": "label", "type": "nominal"}}},
              {"spacing": 0, "hconcat": [
                {"width": 101, "height": 1, "data": {"values": []}, "mark": "point"},
                {"width": 246, "height": 64, "view": {"fill": "#d2d2d2", "stroke": "#404040", "strokeWidth": 2}, "data": {"values": [{"label": "0.12711"}]}, "mark": {"type": "text", "fontSize": 35}, "encoding": {"text": {"field": "label", "type": "nominal"}}}
              ]}
            ]},
            {"width": 31, "height": 1, "data": {"values": []}, "mark": "point"},
            {"spacing": 0, "vconcat": [
              {"width": 1, "height": 36, "data": {"values": []}, "mark": "point"},
              {"width": 368, "height": 142, "view": {"fill": "#c8c8c8"}, "data": {"values": [{"label": ["Number of bins", "Voltage\u00a0\u00a0\u00a0\u00a0\u00a0\u00a0\u00a0Interval"]}]}, "mark": {"type": "text", "fontSize": 35, "lineHeight": 67, "dy": -33.5}, "encoding": {"text": {"field": "label", "type": "nominal"}}},
              {"spacing": 0, "hconcat": [
                {"width": 4, "height": 1, "data": {"values": []}, "mark": "point"},
                {"width": 176, "height": 64, "view": {"fill": "#d2d2d2", "stroke": "#404040", "strokeWidth": 2}, "data": {"values": [{"label": "25"}]}, "mark": {"type": "text", "fontSize": 35}, "encoding": {"text": {"field": "label", "type": "nominal"}}},
                {"width": 9, "height": 1, "data": {"values": []}, "mark": "point"},
                {"width": 175, "height": 64, "view": {"fill": "#d2d2d2", "stroke": "#404040", "strokeWidth": 2}, "data": {"values": [{"label": "30"}]}, "mark": {"type": "text", "fontSize": 35}, "encoding": {"text": {"field": "label", "type": "nominal"}}}
              ]}
            ]},
            {"width": 51, "height": 1, "data": {"values": []}, "mark": "point"},
            {"spacing": 0, "vconcat": [
              {"width": 1, "height": 13, "data": {"values": []}, "mark": "point"},
              {"width": 253, "height": 50, "data": {"values": [{"label": "Spike Interval"}]}, "mark": {"type": "text", "fontSize": 42}, "encoding": {"text": {"field": "label", "type": "nominal"}}}
            ]},
            {"width": 32, "height": 1, "data": {"values": []}, "mark": "point"},
            {"spacing": 0, "vconcat": [
              {"width": 1, "height": 41, "data": {"values": []}, "mark": "point"},
              {"width": 198, "height": 66, "view": {"fill": "#c6c6c6", "stroke": "#505050", "strokeWidth": 2}, "data": {"values": [{"label": "Compute"}]}, "mark": {"type": "text", "fontSize": 35}, "encoding": {"text": {"field": "label", "type": "nominal"}}}
            ]},
            {"width": 66, "height": 1, "data": {"values": []}, "mark": "point"},
            {"spacing": 0, "vconcat": [
              {"width": 1, "height": 41, "data": {"values": []}, "mark": "point"},
              {"width": 166, "height": 66, "view": {"fill": "#c6c6c6", "stroke": "#505050", "strokeWidth": 2}, "data": {"values": [{"label": "1/ISI vs T"}]}, "mark": {"type": "text", "fontSize": 34}, "encoding": {"text": {"field": "label", "type": "nominal"}}},
              {"width": 1, "height": 17, "data": {"values": []}, "mark": "point"},
              {"width": 166, "height": 66, "view": {"fill": "#c6c6c6", "stroke": "#505050", "strokeWidth": 2}, "data": {"values": [{"label": "1/ISI:XL"}]}, "mark": {"type": "text", "fontSize": 34}, "encoding": {"text": {"field": "label", "type": "nominal"}}}
            ]}
          ]
        }
      ]
    }
  ]
}
